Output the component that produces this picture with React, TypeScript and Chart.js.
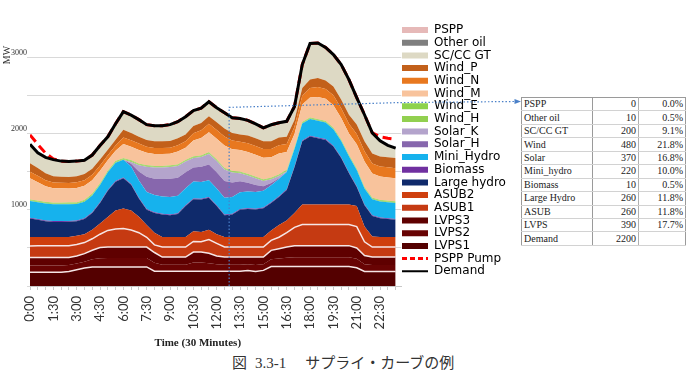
import React, { useEffect, useRef } from "react";
import { Chart, registerables } from "chart.js";

Chart.register(...registerables);

// ---------- data ----------
const timeLabels = [
  "0:00", "0:30", "1:00", "1:30", "2:00", "2:30", "3:00", "3:30", "4:00", "4:30",
  "5:00", "5:30", "6:00", "6:30", "7:00", "7:30", "8:00", "8:30", "9:00", "9:30",
  "10:00", "10:30", "11:00", "11:30", "12:00", "12:30", "13:00", "13:30", "14:00", "14:30",
  "15:00", "15:30", "16:00", "16:30", "17:00", "17:30", "18:00", "18:30", "19:00", "19:30",
  "20:00", "20:30", "21:00", "21:30", "22:00", "22:30", "23:00", "23:30",
];

const lvps1 = [182, 182, 182, 182, 182, 190, 214, 235, 250, 250, 250, 250, 250, 250, 250, 250, 195, 195, 195, 195, 195, 195, 195, 195, 195, 195, 195, 195, 205, 190, 205, 255, 255, 255, 255, 255, 255, 255, 255, 255, 255, 255, 240, 190, 190, 190, 190, 190];
const lvps2 = [88, 88, 88, 88, 88, 85, 82, 85, 100, 115, 118, 118, 118, 118, 118, 118, 110, 85, 85, 85, 85, 113, 113, 105, 90, 85, 85, 85, 80, 85, 80, 95, 105, 115, 124, 124, 124, 124, 124, 124, 124, 124, 117, 95, 85, 85, 85, 85];
const lvps3 = [105, 105, 105, 105, 105, 100, 99, 105, 120, 140, 144, 144, 144, 144, 144, 144, 135, 100, 100, 100, 100, 138, 138, 130, 110, 100, 100, 100, 95, 105, 95, 118, 130, 142, 151, 151, 151, 151, 151, 151, 151, 151, 143, 115, 105, 105, 105, 105];
const asub1 = [150, 155, 155, 155, 155, 155, 150, 145, 150, 175, 218, 238, 242, 223, 188, 128, 100, 132, 132, 132, 132, 139, 134, 180, 165, 132, 132, 132, 132, 132, 132, 132, 150, 188, 240, 277, 277, 277, 277, 277, 277, 277, 280, 180, 132, 132, 132, 132];
const asub2 = [119, 114, 114, 114, 114, 114, 115, 110, 120, 140, 175, 240, 264, 255, 210, 160, 160, 132, 132, 132, 132, 135, 130, 130, 120, 132, 132, 132, 132, 132, 132, 130, 160, 160, 190, 264, 264, 264, 264, 264, 264, 264, 270, 200, 138, 132, 132, 132];
const largeHydro = [242, 226, 206, 198, 198, 201, 190, 200, 220, 270, 345, 380, 396, 340, 240, 200, 260, 296, 286, 301, 406, 420, 425, 420, 370, 286, 296, 356, 366, 361, 376, 360, 370, 400, 600, 829, 892, 869, 848, 760, 609, 409, 250, 280, 270, 246, 236, 226];
const biomass = [10, 10, 10, 10, 10, 10, 10, 10, 10, 10, 10, 10, 10, 10, 10, 10, 10, 10, 10, 10, 10, 10, 10, 10, 10, 10, 10, 10, 10, 10, 10, 10, 10, 10, 10, 10, 10, 10, 10, 10, 10, 10, 10, 10, 10, 10, 10, 10];
const miniHydro = [219, 220, 222, 222, 220, 220, 218, 218, 220, 228, 235, 240, 235, 230, 225, 225, 225, 225, 228, 230, 225, 222, 220, 220, 220, 220, 220, 220, 220, 220, 220, 222, 225, 228, 230, 225, 220, 220, 218, 218, 215, 215, 212, 210, 210, 210, 210, 210];
const solarH = [0, 0, 0, 0, 0, 0, 0, 0, 0, 0, 0, 0, 0, 35, 120, 200, 215, 230, 240, 235, 210, 185, 200, 205, 215, 220, 190, 145, 115, 90, 60, 30, 10, 0, 0, 0, 0, 0, 0, 0, 0, 0, 0, 0, 0, 0, 0, 0];
const solarK = [0, 0, 0, 0, 0, 0, 0, 0, 0, 0, 0, 0, 0, 25, 80, 130, 145, 150, 155, 155, 140, 125, 130, 140, 145, 150, 130, 105, 95, 90, 70, 50, 30, 10, 0, 0, 0, 0, 0, 0, 0, 0, 0, 0, 0, 0, 0, 0];
const windH = [10, 10, 10, 10, 10, 10, 10, 10, 10, 10, 10, 10, 10, 10, 10, 10, 10, 10, 10, 10, 10, 10, 10, 10, 10, 10, 10, 10, 10, 10, 10, 10, 10, 10, 10, 10, 10, 10, 10, 10, 10, 10, 10, 10, 10, 10, 10, 10];
const windE = [10, 10, 10, 10, 10, 10, 10, 10, 10, 10, 10, 10, 10, 10, 10, 10, 10, 10, 10, 10, 10, 10, 10, 10, 10, 10, 10, 10, 10, 10, 10, 10, 10, 10, 10, 10, 10, 10, 10, 10, 10, 10, 10, 10, 10, 10, 10, 10];
const windM = [279, 242, 208, 191, 191, 186, 190, 187, 178, 164, 138, 137, 187, 180, 180, 164, 157, 157, 154, 170, 162, 208, 230, 265, 275, 295, 285, 285, 290, 290, 285, 268, 275, 232, 175, 230, 263, 293, 291, 294, 280, 277, 321, 335, 318, 308, 306, 306];
const windN = [87, 86, 80, 75, 74, 72, 74, 75, 72, 70, 65, 68, 85, 85, 85, 80, 80, 80, 80, 85, 85, 95, 100, 110, 115, 120, 115, 110, 115, 115, 115, 110, 110, 105, 95, 115, 125, 132, 130, 132, 130, 130, 132, 135, 132, 132, 132, 132];
const windP = [111, 102, 90, 80, 78, 77, 78, 80, 80, 78, 72, 75, 100, 95, 90, 90, 88, 88, 88, 90, 88, 95, 95, 100, 100, 105, 100, 95, 100, 100, 100, 100, 100, 95, 90, 100, 110, 115, 112, 115, 115, 118, 125, 130, 130, 130, 132, 132];
const scccGT = [238, 190, 200, 210, 195, 195, 190, 170, 170, 175, 160, 200, 229, 224, 215, 190, 196, 196, 204, 208, 224, 193, 186, 180, 181, 195, 190, 200, 191, 180, 167, 207, 183, 193, 168, 298, 464, 452, 423, 410, 448, 450, 343, 339, 261, 196, 147, 120];
const otherOil = [10, 10, 10, 10, 10, 10, 10, 10, 10, 10, 10, 10, 10, 10, 10, 10, 10, 10, 10, 10, 10, 10, 10, 10, 10, 10, 10, 10, 10, 10, 10, 10, 10, 10, 10, 10, 10, 10, 10, 10, 10, 10, 10, 10, 10, 10, 10, 10];
const pspp = [0, 0, 0, 0, 0, 0, 0, 0, 0, 0, 0, 0, 0, 0, 0, 0, 0, 0, 0, 0, 0, 0, 0, 0, 0, 0, 0, 0, 0, 0, 0, 0, 0, 0, 0, 0, 0, 0, 0, 0, 0, 0, 0, 0, 0, 0, 0, 0];
const psppPump = [1985, 1860, 1745, 1670, 1640, 1635, 1640, 1650, 1720, 1845, 1960, 2130, 2290, 2244, 2185, 2119, 2106, 2106, 2119, 2158, 2224, 2303, 2336, 2420, 2341, 2275, 2210, 2200, 2176, 2130, 2077, 2117, 2143, 2163, 2358, 2908, 3185, 3192, 3133, 3040, 2908, 2710, 2473, 2249, 2011, 1960, 1940, 1925];
const demand = [1860, 1750, 1690, 1660, 1640, 1635, 1640, 1650, 1720, 1845, 1960, 2130, 2290, 2244, 2185, 2119, 2106, 2106, 2119, 2158, 2224, 2303, 2336, 2420, 2341, 2275, 2210, 2200, 2176, 2130, 2077, 2117, 2143, 2163, 2358, 2908, 3185, 3192, 3133, 3040, 2908, 2710, 2473, 2249, 2011, 1906, 1847, 1810];

const yTicks = [0, 500, 1000, 1500, 2000, 2500, 3000];
const yLabelled = [1000, 2000, 3000];

const tableNames = ["PSPP", "Other oil", "SC/CC GT", "Wind", "Solar", "Mini_hydro", "Biomass", "Large Hydro", "ASUB", "LVPS", "Demand"];
const tableValues = ["0", "10", "200", "480", "370", "220", "10", "260", "260", "390", "2200"];
const tablePercents = ["0.0%", "0.5%", "9.1%", "21.8%", "16.8%", "10.0%", "0.5%", "11.8%", "11.8%", "17.7%", ""];

// callout anchor (time index / MW) pointing to the table
const calloutIndex = 25.6;
const calloutValue = 2346;

const CANVAS_H = 352;
const X_MAX = 47.73; // small right margin after the last half hour

export default function App() {
  const canvasRef = useRef<HTMLCanvasElement | null>(null);

  useEffect(() => {
    const canvas = canvasRef.current;
    if (!canvas) return;

    const areaDefs = [
      { label: "LVPS1", data: lvps1, color: "#540000", white: true },
      { label: "LVPS2", data: lvps2, color: "#680303", white: false },
      { label: "LVPS3", data: lvps3, color: "#5f0000", white: true },
      { label: "ASUB1", data: asub1, color: "#c53a12", white: true },
      { label: "ASUB2", data: asub2, color: "#cf3f0e", white: false },
      { label: "Large hydro", data: largeHydro, color: "#0f2a6b", white: false },
      { label: "Biomass", data: biomass, color: "#7030a0", white: false },
      { label: "Mini_Hydro", data: miniHydro, color: "#16b2ed", white: false },
      { label: "Solar_H", data: solarH, color: "#8767ad", white: false },
      { label: "Solar_K", data: solarK, color: "#b4a4cc", white: false },
      { label: "Wind_H", data: windH, color: "#92d050", white: false },
      { label: "Wind_E", data: windE, color: "#8dd24c", white: false },
      { label: "Wind_M", data: windM, color: "#f8c39c", white: false },
      { label: "Wind_N", data: windN, color: "#e8781f", white: false },
      { label: "Wind_P", data: windP, color: "#c2601a", white: false },
      { label: "SC/CC GT", data: scccGT, color: "#ddd9c4", white: false },
      { label: "Other oil", data: otherOil, color: "#7f7f7f", white: false },
      { label: "PSPP", data: pspp, color: "#e6b9b8", white: false },
    ];

    // legend geometry
    const legendFontSize = 12;
    const legendFamily = "DejaVu Sans";
    const legendPad = 0.7;
    const boxW = 26;
    const legendLeft = 401.3;
    const mctx = document.createElement("canvas").getContext("2d") as CanvasRenderingContext2D;
    mctx.font = `${legendFontSize}px ${legendFamily}`;
    const names = [...areaDefs.map((d) => d.label), "PSPP Pump", "Demand"];
    const maxW = Math.max(...names.map((n) => mctx.measureText(n).width));
    const legendWidth = legendPad + boxW + legendFontSize / 2 + maxW + 10;
    const padRight = 700 - legendLeft - legendWidth;

    const datasets: any[] = areaDefs.map((d, i) => ({
      type: "line",
      label: d.label,
      data: d.data,
      backgroundColor: d.color,
      borderColor: d.white ? "#f6e6e6" : d.color,
      borderWidth: d.white ? 1.5 : 0,
      fill: i === 0 ? "origin" : "-1",
      pointRadius: 0,
      pointHoverRadius: 0,
      tension: 0,
      stack: "supply",
      order: 0,
    }));
    datasets.push({
      type: "line",
      label: "PSPP Pump",
      data: psppPump,
      borderColor: "#ff0000",
      borderWidth: 3,
      borderDash: [9, 5],
      fill: false,
      pointRadius: 0,
      pointHoverRadius: 0,
      tension: 0,
      stack: "pump",
      order: -1,
    });
    datasets.push({
      type: "line",
      label: "Demand",
      data: demand,
      borderColor: "#000000",
      borderWidth: 3,
      fill: false,
      pointRadius: 0,
      pointHoverRadius: 0,
      tension: 0,
      stack: "demand",
      order: -2,
    });

    const calloutPlugin = {
      id: "callout",
      afterDraw(chart: any) {
        const { ctx, scales } = chart;
        const vx = scales.x.getPixelForValue(calloutIndex);
        const yb = scales.y.getPixelForValue(0);
        const yt = scales.y.getPixelForValue(calloutValue);
        ctx.save();
        ctx.strokeStyle = "#4a80c8";
        ctx.lineWidth = 1.2;
        ctx.setLineDash([1.5, 2]);
        ctx.beginPath();
        ctx.moveTo(vx, yb);
        ctx.lineTo(vx, yt);
        ctx.lineTo(400, yt - 4.8);
        ctx.lineTo(515, 101.5);
        ctx.stroke();
        ctx.setLineDash([]);
        ctx.fillStyle = "#4a80c8";
        ctx.beginPath();
        ctx.moveTo(521, 101.5);
        ctx.lineTo(514.5, 99);
        ctx.lineTo(514.5, 104);
        ctx.closePath();
        ctx.fill();
        ctx.restore();
      },
    };

    const chart = new Chart(canvas, {
      type: "line",
      data: { labels: timeLabels.map((_, i) => i), datasets },
      options: {
        responsive: false,
        animation: false,
        devicePixelRatio: 1,
        events: [],
        layout: {
          autoPadding: false,
          padding: { left: 0, right: padRight, top: 23.3, bottom: 0 },
        },
        scales: {
          x: {
            type: "linear",
            min: 0,
            max: X_MAX,
            afterBuildTicks: (s: any) => {
              s.ticks = timeLabels.map((_, i) => ({ value: i }));
            },
            grid: {
              display: true,
              drawOnChartArea: false,
              drawTicks: true,
              tickLength: 4,
              color: "#c8c8c8",
            },
            border: { display: true, color: "#c8c8c8" },
            ticks: {
              autoSkip: false,
              maxRotation: 90,
              minRotation: 90,
              padding: 6,
              color: "#333333",
              font: { family: "Lato", size: 13 },
              callback: (v: any) => (Number(v) % 3 === 0 ? timeLabels[Number(v)] : ""),
            },
            title: {
              display: true,
              text: "Time (30 Minutes)" + "             ",
              color: "#222222",
              font: { family: "Liberation Serif", size: 11, weight: "bold" },
              padding: { top: 0, bottom: 2 },
            },
            afterFit: (s: any) => {
              s.height = 66;
            },
          },
          y: {
            type: "linear",
            stacked: true,
            min: 0,
            max: 3450,
            afterBuildTicks: (s: any) => {
              s.ticks = yTicks.map((v) => ({ value: v }));
            },
            grid: { color: "#d9d9d9", tickLength: 3, drawTicks: true },
            border: { display: false },
            ticks: {
              autoSkip: false,
              padding: 0,
              labelOffset: -5,
              color: "#333333",
              font: { family: "Liberation Serif", size: 8 },
              callback: (v: any) => (yLabelled.includes(Number(v)) ? String(v) : ""),
            },
            title: {
              display: true,
              text: "MW" + "         ",
              align: "end",
              color: "#333333",
              font: { family: "Liberation Serif", size: 10 },
              padding: { top: 1, bottom: 0 },
            },
            afterFit: (s: any) => {
              s.width = 30;
            },
          },
        },
        plugins: {
          tooltip: { enabled: false },
          legend: {
            display: true,
            position: "right",
            align: "start",
            labels: {
              usePointStyle: true,
              pointStyleWidth: boxW,
              boxHeight: 6,
              padding: legendPad,
              color: "#222222",
              font: { family: legendFamily, size: legendFontSize },
              generateLabels: () => {
                const items: any[] = areaDefs
                  .map((d, i) => ({
                    text: d.label,
                    fillStyle: d.color,
                    strokeStyle: d.color,
                    lineWidth: 0,
                    pointStyle: "rect",
                    hidden: false,
                    datasetIndex: i,
                  }))
                  .reverse();
                items.push({
                  text: "PSPP Pump",
                  fillStyle: "rgba(0,0,0,0)",
                  strokeStyle: "#ff0000",
                  lineWidth: 3,
                  lineDash: [5, 3],
                  pointStyle: "line",
                  hidden: false,
                  datasetIndex: areaDefs.length,
                });
                items.push({
                  text: "Demand",
                  fillStyle: "rgba(0,0,0,0)",
                  strokeStyle: "#000000",
                  lineWidth: 2,
                  pointStyle: "line",
                  hidden: false,
                  datasetIndex: areaDefs.length + 1,
                });
                return items;
              },
            },
          },
        },
      } as any,
      plugins: [calloutPlugin],
    });

    return () => chart.destroy();
  }, []);

  const rowH = 13.45;

  return (
    <div
      style={{
        position: "absolute",
        left: 0,
        top: 0,
        width: 700,
        height: 380,
        background: "#ffffff",
        overflow: "hidden",
      }}
    >
      <canvas
        ref={canvasRef}
        width={700}
        height={CANVAS_H}
        style={{ position: "absolute", left: 0, top: 0, width: 700, height: CANVAS_H }}
      />
      <table
        style={{
          position: "absolute",
          left: 521,
          top: 97,
          width: 164,
          borderCollapse: "collapse",
          border: "1px solid #9a9a9a",
          fontFamily: '"Liberation Serif", serif',
          fontSize: 10,
          color: "#222",
          tableLayout: "fixed",
          background: "#fff",
        }}
      >
        <colgroup>
          <col style={{ width: 71 }} />
          <col style={{ width: 46 }} />
          <col style={{ width: 47 }} />
        </colgroup>
        <tbody>
          {tableNames.map((n, i) => (
            <tr key={n} style={{ height: rowH }}>
              <td style={{ padding: "0 2px", lineHeight: "12px", borderBottom: "1px solid #d2d2d2", whiteSpace: "nowrap" }}>{n}</td>
              <td style={{ padding: "0 2px", lineHeight: "12px", textAlign: "right", borderLeft: "1px solid #9a9a9a", borderBottom: "1px solid #d2d2d2" }}>{tableValues[i]}</td>
              <td style={{ padding: "0 2px", lineHeight: "12px", textAlign: "right", borderLeft: "1px solid #b0b0b0", borderBottom: "1px solid #d2d2d2" }}>{tablePercents[i]}</td>
            </tr>
          ))}
        </tbody>
      </table>
      <div
        style={{
          position: "absolute",
          left: 232,
          top: 354,
          fontFamily: '"Liberation Serif", "Noto Sans CJK JP", serif',
          fontSize: 15,
          lineHeight: "18px",
          color: "#333",
          whiteSpace: "nowrap",
        }}
      >
        <span>図</span>
        <span style={{ marginLeft: 8 }}>3.3-1</span>
        <span style={{ marginLeft: 19 }}>サプライ・カーブの例</span>
      </div>
    </div>
  );
}
